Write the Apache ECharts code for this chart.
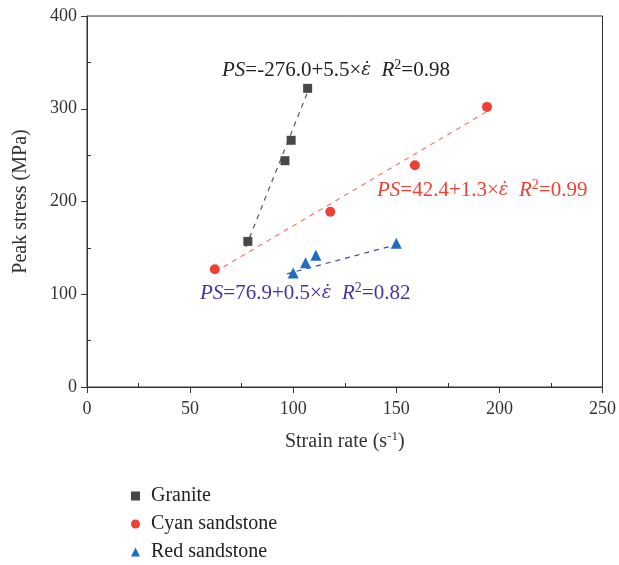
<!DOCTYPE html>
<html><head><meta charset="utf-8">
<script src="https://cdn.jsdelivr.net/npm/echarts@6/dist/echarts.min.js"></script>
<style>html,body{margin:0;padding:0;background:#fff}#c{width:619px;height:565px}</style>
</head><body><div id="c"></div>
<script>
const seriesNames = ['Granite', 'Cyan sandstone', 'Red sandstone'];
const granite = [[78,157],[96,244],[99,266],[107,322]];
const cyan = [[62,127],[118,189],[159,239],[194,302]];
const red = [[100,123],[106,134],[111,142],[150,155]];
// fitted lines (endpoints)
const graniteFit = [[77,151],[107,318]];
const cyanFit = [[62,124],[194,297]];
const redFit = [[97,122],[151,154]];
const eqGranite = ['PS','=-276.0+5.5×','ε̇','R','2','=0.98'];
const eqCyan = ['PS','=42.4+1.3×','ε̇','R','2','=0.99'];
const eqRed = ['PS','=76.9+0.5×','ε̇','R','2','=0.82'];
const xTicks = [0,50,100,150,200,250];
const yTicks = [0,100,200,300,400];

const FF = '"Liberation Serif", "DejaVu Serif", serif';
const chart = echarts.init(document.getElementById('c'));
const colors = ['#45494c', '#ee4035', '#1f6cc0'];
const lineColors = ['#555555', '#f27a6c', '#4b3fa6'];
const AX = '#333';

function eqText(e) {
  return '{i|' + e[0] + '}{n|' + e[1] + '}{e|' + e[2] + '}{n|  }{i|' + e[3] + '}{s|' + e[4] + '}{n|' + e[5] + '}';
}
function rich(color) {
  return {
    i: {fontFamily: FF, fontStyle: 'italic', fontSize: 21, fill: color, color: color},
    e: {fontFamily: '"DejaVu Serif", serif', fontStyle: 'italic', fontSize: 18, fill: color, color: color},
    n: {fontFamily: FF, fontSize: 21, fill: color, color: color},
    s: {fontFamily: FF, fontSize: 14, fill: color, color: color, padding: [0,0,10,0]}
  };
}
function eqGraphic(e, x, y, color) {
  return {type: 'text', left: x, top: y, z: 100,
    style: {text: eqText(e), rich: rich(color), fill: color, font: '21px ' + FF}};
}

function mainAxis(extra) {
  return Object.assign({
    type: 'value',
    axisLine: {show: true, lineStyle: {color: AX, width: 1}},
    axisTick: {show: true, inside: false, length: 6, lineStyle: {color: AX}},
    minorTick: {show: false},
    splitLine: {show: false},
    axisLabel: {fontFamily: FF, fontSize: 18, color: AX},
    nameTextStyle: {fontFamily: FF, fontSize: 20, color: AX}
  }, extra);
}
function minorAxis(extra) {
  return Object.assign({
    type: 'value',
    axisLine: {show: false},
    axisTick: {show: false, inside: true},
    minorTick: {show: true, splitNumber: 2, length: 4, lineStyle: {color: AX}},
    splitLine: {show: false},
    axisLabel: {show: false}
  }, extra);
}

chart.setOption({
  animation: false,
  grid: {left: 87, right: 16, top: 16, bottom: 178, show: true, borderColor: AX, borderWidth: 1},
  legend: {
    orient: 'vertical', left: 126, top: 481, height: 100, itemGap: 8, itemWidth: 9, itemHeight: 9,
    textStyle: {fontFamily: FF, fontSize: 20, lineHeight: 20, color: '#222', padding: [0,0,0,6]},
    data: seriesNames
  },
  xAxis: [
    mainAxis({
      min: xTicks[0], max: xTicks[xTicks.length-1], interval: 50,
      name: 'Strain rate (s{sup|-1})', nameLocation: 'middle', nameGap: 43,
      nameTextStyle: {fontFamily: FF, fontSize: 20, color: AX,
        rich: {sup: {fontFamily: FF, fontSize: 13, color: AX, padding: [0,0,10,0]}}},
      axisLabel: {fontFamily: FF, fontSize: 18, color: AX, margin: 13}
    }),
    minorAxis({position: 'bottom', min: xTicks[0], max: xTicks[xTicks.length-1], interval: 50})
  ],
  yAxis: [
    mainAxis({
      min: yTicks[0], max: yTicks[yTicks.length-1], interval: 100,
      name: 'Peak stress (MPa)', nameLocation: 'middle', nameGap: 56,
      axisLabel: {fontFamily: FF, fontSize: 18, color: AX, margin: 10}
    }),
    minorAxis({position: 'left', min: yTicks[0], max: yTicks[yTicks.length-1], interval: 100})
  ],
  series: [
    {name: seriesNames[0], type: 'scatter', data: granite, symbol: 'rect', symbolSize: 9, itemStyle: {color: colors[0], opacity: 1}, z: 5},
    {name: seriesNames[1], type: 'scatter', data: cyan, symbol: 'circle', symbolSize: 10, itemStyle: {color: colors[1], opacity: 1}, z: 5},
    {name: seriesNames[2], type: 'scatter', data: red, symbol: 'triangle', symbolSize: 11, itemStyle: {color: colors[2], opacity: 1}, z: 5},
    {type: 'line', data: graniteFit, symbol: 'none', lineStyle: {color: lineColors[0], type: [5,5], width: 1.2}, z: 3},
    {type: 'line', data: cyanFit, symbol: 'none', lineStyle: {color: lineColors[1], type: [5,5], width: 1.2}, z: 3},
    {type: 'line', data: redFit, symbol: 'none', lineStyle: {color: lineColors[2], type: [5,5], width: 1.2}, z: 3}
  ],
  graphic: [
    eqGraphic(eqGranite, 222, 58, '#222'),
    eqGraphic(eqCyan, 377, 178, '#ee4035'),
    eqGraphic(eqRed, 200, 281, '#4336a0')
  ]
});
</script></body></html>
